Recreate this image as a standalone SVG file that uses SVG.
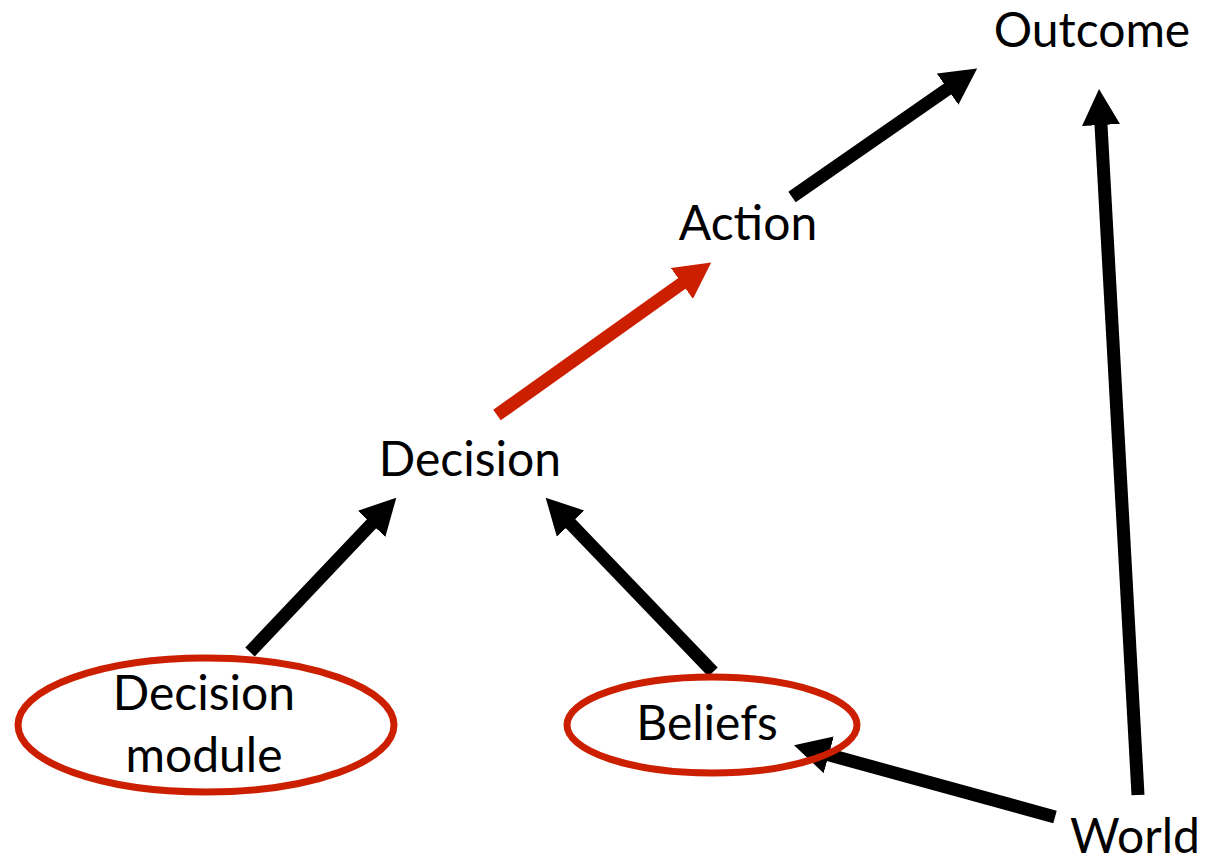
<svg xmlns="http://www.w3.org/2000/svg" width="1207" height="863" viewBox="0 0 1207 863">
  <style>
    .lbl { font-family: "Lato", "Open Sans", "Liberation Sans", sans-serif; font-size: 48px; fill: #000; text-anchor: middle; }
    .conn { stroke: #000; stroke-width: 13; fill: none; marker-end: url(#head); }
    .conn.red { stroke: #CC1F00; marker-end: url(#headRed); }
    .ring { fill: none; stroke: #CC1F00; stroke-width: 7; }
  </style>
  <defs>
    <marker id="head" markerUnits="userSpaceOnUse" markerWidth="36" markerHeight="38" viewBox="0 0 36 38" refX="2" refY="19" orient="auto">
      <path d="M0,0 L36,19 L0,38 z" fill="#000"/>
    </marker>
    <marker id="headRed" markerUnits="userSpaceOnUse" markerWidth="36" markerHeight="38" viewBox="0 0 36 38" refX="2" refY="19" orient="auto">
      <path d="M0,0 L36,19 L0,38 z" fill="#CC1F00"/>
    </marker>
  </defs>
  <rect width="1207" height="863" fill="#fff"/>

  <g id="connectors">
    <line class="conn red" x1="497" y1="415" x2="683.5" y2="282.3"/>
    <line class="conn" x1="792" y1="197" x2="949.2" y2="87.9"/>
    <line class="conn" x1="1138" y1="795" x2="1100.9" y2="123"/>
    <line class="conn" x1="250" y1="652" x2="372.9" y2="522.4"/>
    <line class="conn" x1="713" y1="672" x2="569.2" y2="522.2"/>
    <line class="conn" x1="1055" y1="817" x2="826.8" y2="754.3"/>
  </g>

  <g id="outcome">
    <text class="lbl" x="1092" y="47">Outcome</text>
  </g>
  <g id="action">
    <text class="lbl" x="748" y="240">Action</text>
  </g>
  <g id="decision">
    <text class="lbl" x="470" y="476">Decision</text>
  </g>
  <g id="decision-module">
    <ellipse class="ring" cx="206" cy="725" rx="188" ry="67"/>
    <text class="lbl" x="204" y="710">Decision</text>
    <text class="lbl" x="204" y="772">module</text>
  </g>
  <g id="beliefs">
    <ellipse class="ring" cx="712" cy="725" rx="145" ry="48"/>
    <text class="lbl" x="707" y="740">Beliefs</text>
  </g>
  <g id="world">
    <text class="lbl" x="1135" y="853">World</text>
  </g>
</svg>
